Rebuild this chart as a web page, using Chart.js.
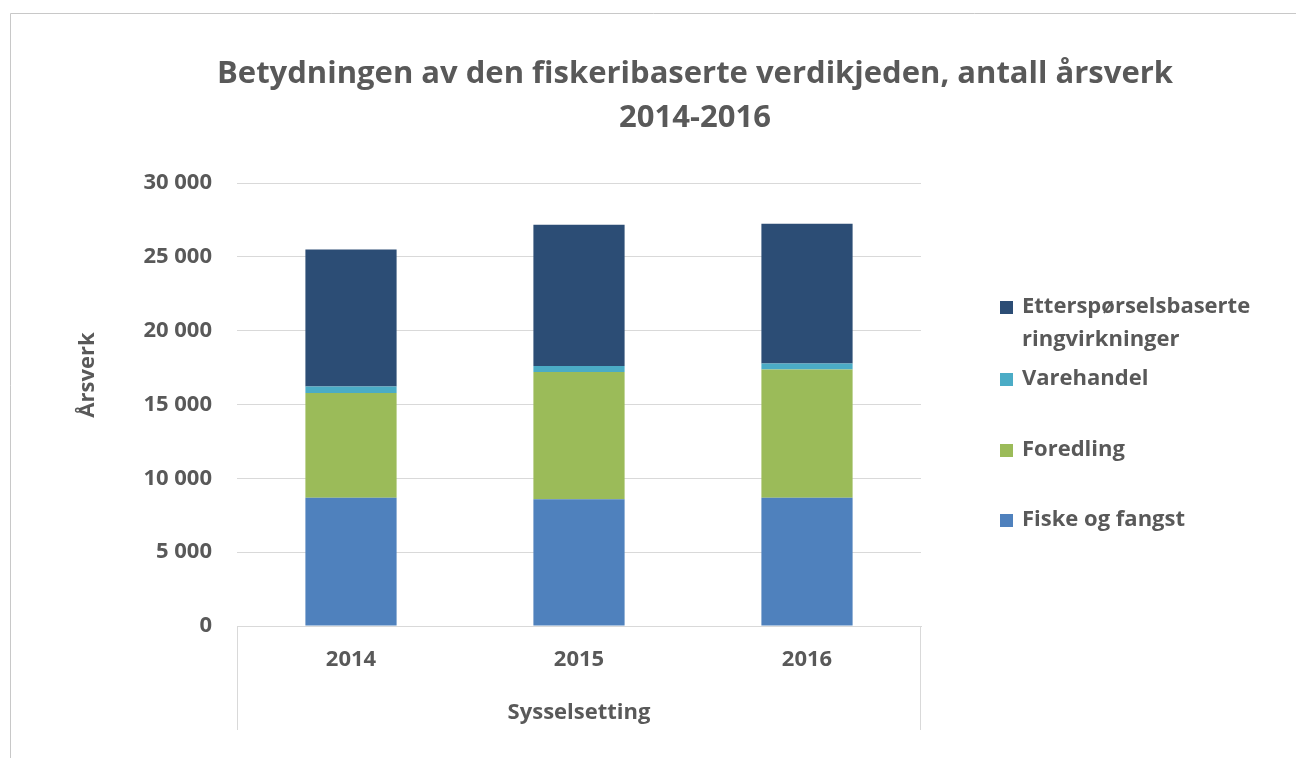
<!DOCTYPE html>
<html lang="no">
<head>
    <meta charset="UTF-8">
    <title>Fiskeribasert verdikjede - årsverk</title>
    <script src="https://cdn.jsdelivr.net/npm/chart.js"></script>
    <style>
        html, body { margin: 0; padding: 0; background: #fff; }
        #wrap { width: 1296px; height: 758px; position: relative; }
    </style>
</head>
<body>
    <div id="wrap">
        <canvas id="chart" width="1296" height="758"></canvas>
    </div>

    <script>
        // Data
        const years = ['2014', '2015', '2016'];
        const fiskeOgFangst = [8680, 8590, 8680];
        const foredling = [7105, 8615, 8690];
        const varehandel = [435, 405, 405];
        const ringvirkninger = [9270, 9565, 9470];

        const titleLines = ['Betydningen av den fiskeribaserte verdikjeden, antall årsverk', '2014-2016'];
        const yTitle = 'Årsverk';
        const xTitle = 'Sysselsetting';
        const legendLabels = {
            ringvirkninger: ['Etterspørselsbaserte', 'ringvirkninger'],
            varehandel: ['Varehandel'],
            foredling: ['Foredling'],
            fiske: ['Fiske og fangst']
        };

        const textColor = '#595959';
        const gridColor = '#d9d9d9';
        const fontFamily = '"Open Sans", Lato, sans-serif';

        // Title, frame, category box, y title and legend drawn on the canvas
        const decorPlugin = {
            id: 'decor',
            beforeDraw(chart) {
                const ctx = chart.ctx;
                ctx.save();
                ctx.fillStyle = '#fff';
                ctx.fillRect(0, 0, chart.width, chart.height);
                // outer frame (only top and left visible)
                ctx.strokeStyle = '#c8c8c8';
                ctx.lineWidth = 1;
                ctx.beginPath();
                ctx.moveTo(10.5, chart.height);
                ctx.lineTo(10.5, 13.5);
                ctx.lineTo(chart.width, 13.5);
                ctx.stroke();
                ctx.restore();
            },
            afterDraw(chart) {
                const ctx = chart.ctx;
                const area = chart.chartArea;
                const xs = chart.scales.x;
                ctx.save();

                // title
                ctx.fillStyle = textColor;
                ctx.font = 'bold 31px ' + fontFamily;
                ctx.textAlign = 'center';
                ctx.textBaseline = 'middle';
                const cx = 695;
                ctx.fillText(titleLines[0], cx, 74);
                ctx.fillText(titleLines[1], cx, 118);

                // y axis title
                ctx.save();
                ctx.font = 'bold 22px ' + fontFamily;
                ctx.translate(88, 375);
                ctx.rotate(-Math.PI / 2);
                ctx.fillText(yTitle, 0, 0);
                ctx.restore();

                // category box lines under the axis
                ctx.strokeStyle = gridColor;
                ctx.lineWidth = 1;
                ctx.beginPath();
                ctx.moveTo(Math.round(area.left) + 0.5, area.bottom);
                ctx.lineTo(Math.round(area.left) + 0.5, xs.bottom);
                ctx.moveTo(Math.round(area.right) - 0.5, area.bottom);
                ctx.lineTo(Math.round(area.right) - 0.5, xs.bottom);
                ctx.stroke();

                // legend, reversed order like the reference
                const items = [
                    { lines: legendLabels.ringvirkninger, color: chart.data.datasets[3].backgroundColor, y: 307 },
                    { lines: legendLabels.varehandel, color: chart.data.datasets[2].backgroundColor, y: 379 },
                    { lines: legendLabels.foredling, color: chart.data.datasets[1].backgroundColor, y: 450 },
                    { lines: legendLabels.fiske, color: chart.data.datasets[0].backgroundColor, y: 520 }
                ];
                ctx.font = 'bold 22px ' + fontFamily;
                ctx.textAlign = 'left';
                items.forEach(it => {
                    ctx.fillStyle = it.color;
                    ctx.fillRect(1000, it.y - 6, 13, 13);
                    ctx.fillStyle = textColor;
                    it.lines.forEach((line, i) => {
                        ctx.fillText(line, 1022, it.y + i * 33);
                    });
                });
                ctx.restore();
            }
        };

        const ctx = document.getElementById('chart').getContext('2d');
        new Chart(ctx, {
            type: 'bar',
            data: {
                labels: years,
                datasets: [
                    { label: 'Fiske og fangst', data: fiskeOgFangst, backgroundColor: '#4f81bd' },
                    { label: 'Foredling', data: foredling, backgroundColor: '#9bbb59' },
                    { label: 'Varehandel', data: varehandel, backgroundColor: '#4bacc6' },
                    { label: 'Etterspørselsbaserte ringvirkninger', data: ringvirkninger, backgroundColor: '#2c4d75' }
                ]
            },
            options: {
                responsive: false,
                animation: false,
                devicePixelRatio: 1,
                layout: {
                    padding: { left: 64, right: 375, top: 183, bottom: 28 }
                },
                datasets: {
                    bar: { barPercentage: 0.4, categoryPercentage: 1 }
                },
                plugins: {
                    legend: { display: false },
                    title: { display: false },
                    tooltip: { enabled: false }
                },
                scales: {
                    x: {
                        stacked: true,
                        afterFit: s => { s.height = 104; },
                        grid: { display: false, drawTicks: false },
                        border: { display: true, color: gridColor, width: 1 },
                        ticks: {
                            color: textColor,
                            padding: 21,
                            font: { family: fontFamily, size: 22, weight: 'bold' }
                        },
                        title: {
                            display: true,
                            text: xTitle,
                            color: textColor,
                            padding: { top: 0, bottom: 4 },
                            font: { family: fontFamily, size: 22, weight: 'bold' }
                        }
                    },
                    y: {
                        stacked: true,
                        min: 0,
                        max: 30000,
                        afterFit: s => { s.width = 173; },
                        grid: { color: gridColor, drawTicks: false },
                        border: { display: false },
                        ticks: {
                            stepSize: 5000,
                            color: textColor,
                            padding: 25,
                            font: { family: fontFamily, size: 22, weight: 'bold' },
                            callback: v => String(v).replace(/\B(?=(\d{3})+(?!\d))/g, ' ')
                        },
                        title: { display: false }
                    }
                }
            },
            plugins: [decorPlugin]
        });
    </script>
</body>
</html>
